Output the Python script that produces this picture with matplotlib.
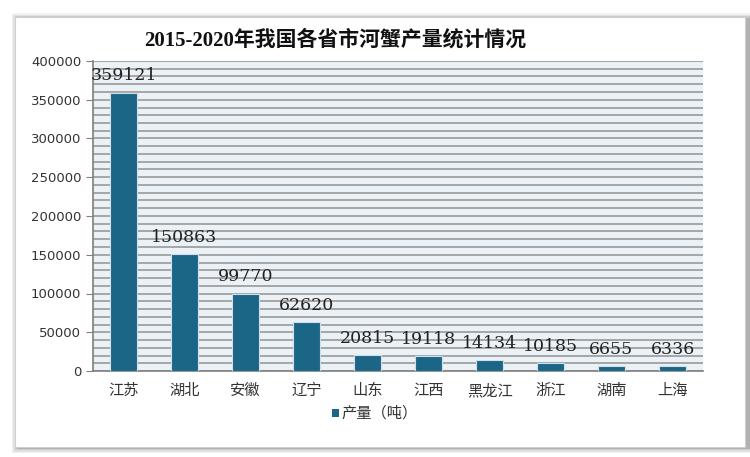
import numpy as np
import matplotlib
matplotlib.use('Agg')
import matplotlib.pyplot as plt
from matplotlib.patches import Rectangle

plt.rcParams['font.family'] = ['Liberation Serif', 'Noto Sans CJK SC', 'DejaVu Sans']

provinces = ['江苏', '湖北', '安徽', '辽宁', '山东', '江西', '黑龙江', '浙江', '湖南', '上海']
output = [359121, 150863, 99770, 62620, 20815, 19118, 14134, 10185, 6655, 6336]
title = '2015-2020年我国各省市河蟹产量统计情况'
legend_label = '产量（吨）'

fig = plt.figure(figsize=(7.5, 4.57), dpi=100)
W, H = 750.0, 457.0

# white card with soft shadow
for i, a in enumerate([0.05, 0.07, 0.09, 0.12]):
    d = 6 - i * 1.5
    fig.patches.append(Rectangle(((15 - d + 3) / W, 1 - (447 + d) / H), (730 + 2 * d) / W, (430 + 2 * d - 2) / H,
                                 transform=fig.transFigure, facecolor='black', alpha=a, edgecolor='none', zorder=0))
fig.patches.append(Rectangle((15 / W, 1 - 447 / H), 730 / W, 430 / H, transform=fig.transFigure,
                             facecolor='white', edgecolor='#d0d0d0', lw=0.8, zorder=1))

ax = fig.add_axes([93 / W, 1 - 371 / H, 610 / W, 310 / H])
ax.set_zorder(2)
ax.set_facecolor('#eaf1f7')

x = np.arange(len(provinces))
ax.bar(x, output, width=0.43, color='#1b6686', edgecolor='#cfe0ea', linewidth=0.8, zorder=3)
for xi, v in zip(x, output):
    ax.annotate(str(v), (xi, v), xytext=(0, 6), textcoords='offset points', ha='center', va='bottom',
                fontsize=12.5, family=['DejaVu Serif'], color='#222222', zorder=4)

ax.set_xlim(-0.5, len(provinces) - 0.5)
ax.set_ylim(0, 400000)
ax.set_yticks(np.arange(0, 400001, 50000))
ax.set_yticks(np.arange(0, 400001, 10000), minor=True)
ax.yaxis.grid(True, which='both', color='#a0a0a0', lw=1.3, zorder=0)
ax.set_axisbelow(True)
ax.set_xticks(x)
ax.set_xticklabels(provinces, fontsize=11, family=['Noto Sans CJK SC'])
ax.tick_params(axis='x', length=0, pad=8, colors='#333333')
ax.tick_params(axis='y', which='major', length=5, color='#808080', labelsize=9.5, labelcolor='#333333')
for lab in ax.get_yticklabels():
    lab.set_family(['DejaVu Sans'])
ax.tick_params(axis='y', which='minor', length=0)
for s in ['top', 'right']:
    ax.spines[s].set_visible(False)
for s in ['left', 'bottom']:
    ax.spines[s].set_color('#808080')
    ax.spines[s].set_linewidth(1.2)

fig.text(335 / W, 1 - 40 / H, title, ha='center', va='center', fontsize=15, weight='bold', color='#111111')

fig.patches.append(Rectangle((332 / W, 1 - 417 / H), 7 / W, 8 / H, transform=fig.transFigure,
                             facecolor='#1b6686', edgecolor='none', zorder=3))
fig.text(342 / W, 1 - 413 / H, legend_label, ha='left', va='center', fontsize=11,
         family=['Noto Sans CJK SC'], color='#333333')

fig.savefig('out.png', dpi=100)
